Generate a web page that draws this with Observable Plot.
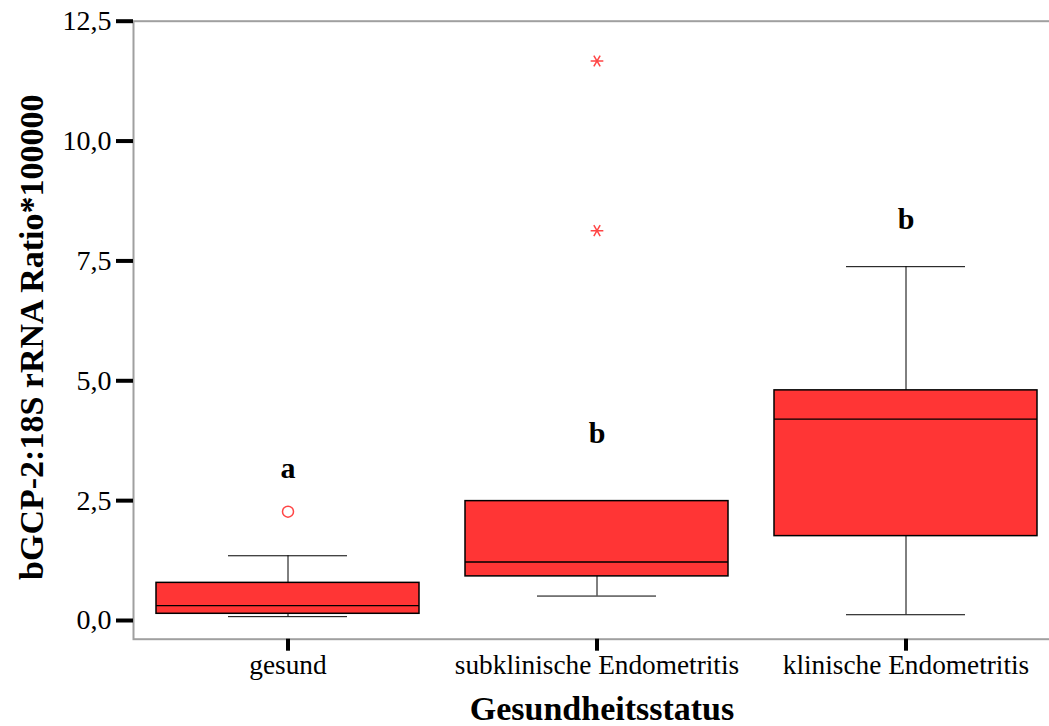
<!DOCTYPE html>
<html>
<head>
<meta charset="utf-8">
<script src="https://cdn.jsdelivr.net/npm/d3@7"></script>
<script src="https://cdn.jsdelivr.net/npm/@observablehq/plot@0.6"></script>
<style>
  html, body { margin: 0; padding: 0; background: #fff; overflow: hidden; }
  #chart { width: 1049px; height: 726px; overflow: hidden; }
  #chart svg { max-width: none !important; }
</style>
</head>
<body>
<div id="chart"></div>
<script>
const categories = ["gesund", "subklinische Endometritis", "klinische Endometritis"];
const whiskerLow  = [0.08, 0.51, 0.12];
const q1          = [0.14, 0.92, 1.76];
const median      = [0.31, 1.22, 4.20];
const q3          = [0.785, 2.49, 4.80];
const whiskerHigh = [1.35, 2.49, 7.38];
const outlierCat  = ["gesund"];
const outlierVal  = [2.27];
const extremeCat  = ["subklinische Endometritis", "subklinische Endometritis"];
const extremeVal  = [8.13, 11.67];
const letters     = ["a", "b", "b"];
const letterVal   = [2.98, 3.71, 8.17];
const yTicks      = [0, 2.5, 5, 7.5, 10, 12.5];
const xTitle = "Gesundheitsstatus";
const yTitle = "bGCP-2:18S rRNA Ratio*100000";

const boxes = categories.map((c, i) => ({
  cat: c, lo: whiskerLow[i], q1: q1[i], med: median[i], q3: q3[i], hi: whiskerHigh[i],
  letter: letters[i], ly: letterVal[i]
}));
const outliers = outlierCat.map((c, i) => ({cat: c, v: outlierVal[i]}));
const extremes = extremeCat.map((c, i) => ({cat: c, v: extremeVal[i]}));

const font = "'Liberation Serif', 'Times New Roman', serif";

const plot = Plot.plot({
  width: 1060,
  height: 726,
  marginLeft: 133,
  marginRight: 0,
  marginTop: 20.7,
  marginBottom: 87.3,
  style: {fontFamily: font, fontSize: "26px", color: "#000", background: "#fff", maxWidth: "none"},
  x: {type: "band", domain: categories, padding: 0, align: 0.5},
  y: {domain: [-0.39, 12.5]},
  marks: [
    Plot.frame({stroke: "#a0a0a0", strokeWidth: 2}),
    Plot.ruleX(boxes, {x: "cat", y1: "q3", y2: "hi", stroke: "#000", strokeWidth: 1}),
    Plot.ruleX(boxes, {x: "cat", y1: "lo", y2: "q1", stroke: "#000", strokeWidth: 1}),
    Plot.tickY(boxes, {x: "cat", y: "hi", stroke: "#000", strokeWidth: 1, insetLeft: 95, insetRight: 95}),
    Plot.tickY(boxes, {x: "cat", y: "lo", stroke: "#000", strokeWidth: 1, insetLeft: 95, insetRight: 95}),
    Plot.barY(boxes, {x: "cat", y1: "q1", y2: "q3", fill: "#ff3535", stroke: "#000", strokeWidth: 1.5, insetLeft: 23, insetRight: 23}),
    Plot.tickY(boxes, {x: "cat", y: "med", stroke: "#000", strokeWidth: 1.3, insetLeft: 23, insetRight: 23}),
    Plot.dot(outliers, {x: "cat", y: "v", r: 5.5, stroke: "#ff4545", fill: "none", strokeWidth: 1.5}),
    Plot.dot(extremes, {x: "cat", y: "v", r: 6, symbol: "asterisk", rotate: 90, stroke: "#ff4545", strokeWidth: 1.5}),
    Plot.text(boxes, {x: "cat", y: "ly", text: "letter", fontWeight: "bold", fontSize: 30, lineAnchor: "bottom", fill: "#000"}),
    Plot.axisY({ticks: yTicks, tickFormat: d => d.toFixed(1).replace(".", ","), tickSize: 17, tickPadding: 5, strokeWidth: 4, stroke: "#000", fontSize: 28, label: null}),
    Plot.axisX({tickSize: 12, tickPadding: 3, strokeWidth: 4, stroke: "#000", fontSize: 27.3, label: null}),
    Plot.text([xTitle], {frameAnchor: "bottom", textAnchor: "middle", dx: 5, dy: 80.5, lineAnchor: "bottom", fontWeight: "bold", fontSize: 34, fill: "#000"}),
    Plot.text([yTitle], {frameAnchor: "left", textAnchor: "middle", dx: -101, dy: 7, rotate: -90, lineAnchor: "middle", fontWeight: "bold", fontSize: 34, fill: "#000"})
  ]
});
plot.style.maxWidth = "none";
document.getElementById("chart").appendChild(plot);
</script>
</body>
</html>
